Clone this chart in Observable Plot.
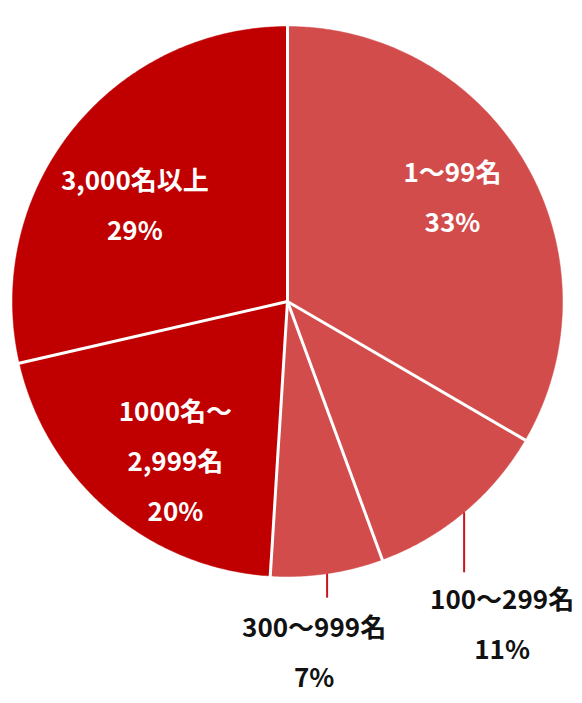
<!DOCTYPE html>
<html><head><meta charset="utf-8">
<script src="https://cdn.jsdelivr.net/npm/d3@7"></script>
<script src="https://cdn.jsdelivr.net/npm/@observablehq/plot@0.6"></script>
<style>body{margin:0;background:#fff;} svg{display:block;}</style>
</head><body><div id="chart"></div>
<script>
// ---- data ----
const categories = ["1〜99名", "100〜299名", "300〜999名", "1000名〜\n2,999名", "3,000名以上"];
const shares = [33.4, 11.0, 6.6, 20.4, 28.6];
const percentLabels = ["33%", "11%", "7%", "20%", "29%"];
const tones = ["light", "light", "light", "dark", "dark"];
const labelInside = [true, false, false, true, true];

// ---- layout ----
const W = 582, H = 703, CX = 287, CY = 301, R = 275;
const toneColor = {light: "#D34C4C", dark: "#C00000"};
const insideNudge = [[-2, -14.5], [0, 0], [0, 0], [12.5, 7], [-2, 17]];
const leaderLen = [0, 60, 24, 0, 0];
const outsideOffset = [[0, 0], [38, 46], [-13, 48.5], [0, 0], [0, 0]];

const total = d3.sum(shares);
let acc = 0;
const slices = categories.map((c, i) => {
  const a0 = acc / total * 2 * Math.PI;
  acc += shares[i];
  const a1 = acc / total * 2 * Math.PI;
  return {i, category: c, share: shares[i], pct: percentLabels[i], tone: tones[i],
          color: toneColor[tones[i]], a0, a1, mid: (a0 + a1) / 2, inside: labelInside[i]};
});

// polygon points for each slice (unit circle, clockwise from top)
const pts = [];
for (const s of slices) {
  pts.push({slice: s.i, color: s.color, x: 0, y: 0});
  const n = Math.max(2, Math.ceil((s.a1 - s.a0) / (Math.PI / 360)));
  for (let k = 0; k <= n; k++) {
    const a = s.a0 + (s.a1 - s.a0) * k / n;
    pts.push({slice: s.i, color: s.color, x: Math.sin(a), y: Math.cos(a)});
  }
  pts.push({slice: s.i, color: s.color, x: 0, y: 0});
}
const seps = slices.map(s => ({x1: 0, y1: 0, x2: Math.sin(s.a0) * 1.01, y2: Math.cos(s.a0) * 1.01}));

const inside = slices.filter(s => s.inside).map(s => ({
  text: s.category + "\n" + s.pct,
  x: Math.sin(s.mid) * 0.7 + insideNudge[s.i][0] / R,
  y: Math.cos(s.mid) * 0.7 - insideNudge[s.i][1] / R
}));
const outside = slices.filter(s => !s.inside).map(s => {
  const x = Math.sin(s.mid), y = Math.cos(s.mid);
  const yEnd = y - leaderLen[s.i] / R;
  return {
    x, y, yEnd, text: s.category + "\n" + s.pct,
    tx: x + outsideOffset[s.i][0] / R, ty: yEnd - outsideOffset[s.i][1] / R
  };
});

const font = "'Noto Sans CJK JP', 'Noto Sans', sans-serif";
const chart = Plot.plot({
  width: W, height: H,
  margin: 0,
  x: {domain: [-CX / R, (W - CX) / R], axis: null},
  y: {domain: [-(H - CY) / R, CY / R], axis: null},
  style: {fontFamily: font, background: "#fff"},
  marks: [
    Plot.line(pts, {x: "x", y: "y", z: "slice", fill: "color", stroke: "color", strokeWidth: 0.5}),
    Plot.link(seps, {x1: "x1", y1: "y1", x2: "x2", y2: "y2", stroke: "#fff", strokeWidth: 3}),
    Plot.link(outside, {x1: "x", y1: "y", x2: "x", y2: "yEnd", stroke: "#C8161E", strokeWidth: 2}),
    Plot.text(inside, {x: "x", y: "y", text: "text", fill: "#fff", fontSize: 26, fontWeight: "bold", lineHeight: 1.92}),
    Plot.text(outside, {x: "tx", y: "ty", text: "text", fill: "#111", fontSize: 26, fontWeight: "bold", lineHeight: 1.92})
  ]
});
document.getElementById("chart").appendChild(chart);
</script>
</body></html>
